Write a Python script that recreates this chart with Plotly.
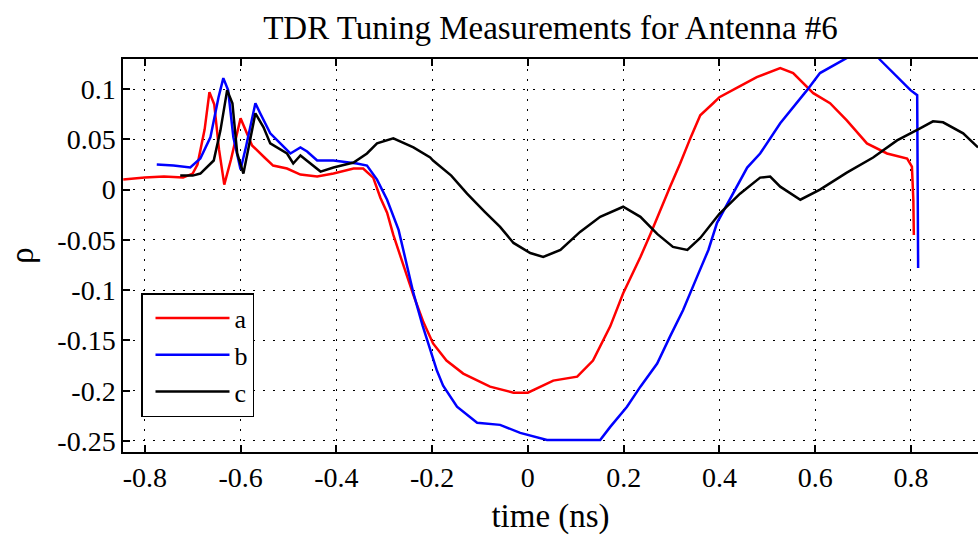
import plotly.graph_objects as go

# ---- data ----
a_t = [-0.845, -0.80, -0.76, -0.72, -0.70, -0.69, -0.675, -0.665, -0.655, -0.645, -0.634, -0.62, -0.60, -0.590,
       -0.576, -0.55, -0.532, -0.503, -0.475, -0.44, -0.406, -0.364, -0.344, -0.323, -0.308, -0.294, -0.281,
       -0.26, -0.239, -0.218, -0.198, -0.17, -0.135, -0.079, -0.03, 0.0, 0.053, 0.103, 0.136, 0.172, 0.199, 0.235, 0.256,
       0.297, 0.318, 0.34, 0.36, 0.387, 0.40, 0.443, 0.478, 0.527, 0.554, 0.596, 0.631, 0.666, 0.708, 0.75, 0.792,
       0.802, 0.805, 0.806]
a_rho = [0.010, 0.012, 0.013, 0.012, 0.016, 0.025, 0.06, 0.097, 0.085, 0.04, 0.005, 0.03, 0.071, 0.06,
         0.044, 0.032, 0.024, 0.021, 0.015, 0.013, 0.016, 0.021, 0.021, 0.012, -0.008, -0.023, -0.045,
         -0.075, -0.105, -0.132, -0.153, -0.170, -0.183, -0.196, -0.202, -0.202, -0.190, -0.186, -0.170, -0.136, -0.103, -0.067, -0.044,
         0.003, 0.026, 0.052, 0.074, 0.086, 0.092, 0.103, 0.112, 0.121, 0.116, 0.096, 0.086, 0.069, 0.046, 0.036, 0.031,
         0.023, -0.010, -0.045]

b_t = [-0.775, -0.74, -0.705, -0.684, -0.663, -0.646, -0.636, -0.626, -0.615, -0.60, -0.589, -0.575, -0.569,
       -0.559, -0.538, -0.517, -0.496, -0.475, -0.461, -0.44, -0.406, -0.357, -0.336, -0.315, -0.294, -0.27,
       -0.255, -0.239, -0.22, -0.204, -0.19, -0.177, -0.148, -0.106, -0.058, -0.016, 0.04, 0.103, 0.151, 0.172, 0.207, 0.235, 0.27,
       0.297, 0.324, 0.353, 0.377, 0.395, 0.429, 0.458, 0.485, 0.527, 0.583, 0.61, 0.666, 0.70, 0.736, 0.763,
       0.799, 0.813, 0.815]
b_rho = [0.025, 0.024, 0.022, 0.031, 0.052, 0.092, 0.111, 0.099, 0.052, 0.020, 0.042, 0.072, 0.086,
         0.076, 0.056, 0.046, 0.036, 0.042, 0.038, 0.029, 0.029, 0.026, 0.024, 0.010, -0.010, -0.040,
         -0.070, -0.103, -0.135, -0.160, -0.180, -0.195, -0.216, -0.232, -0.234, -0.242, -0.249, -0.249, -0.249, -0.236, -0.216, -0.196, -0.173,
         -0.146, -0.120, -0.087, -0.060, -0.033, -0.003, 0.022, 0.036, 0.066, 0.099, 0.116, 0.131, 0.150, 0.129, 0.116,
         0.099, 0.094, -0.078]

c_t = [-0.726, -0.70, -0.684, -0.656, -0.642, -0.628, -0.617, -0.607, -0.594, -0.583, -0.569, -0.552, -0.538,
       -0.503, -0.49, -0.475, -0.454, -0.433, -0.406, -0.364, -0.336, -0.315, -0.281, -0.239, -0.204, -0.198,
       -0.16, -0.127, -0.09, -0.058, -0.03, 0.005, 0.032, 0.068, 0.109, 0.151, 0.199, 0.235, 0.27, 0.303, 0.333, 0.36, 0.40,
       0.443, 0.485, 0.506, 0.527, 0.569, 0.61, 0.666, 0.721, 0.771, 0.819, 0.846, 0.867, 0.909, 0.94]
c_rho = [0.014, 0.014, 0.016, 0.029, 0.059, 0.099, 0.086, 0.036, 0.016, 0.042, 0.076, 0.062, 0.046,
         0.036, 0.026, 0.034, 0.026, 0.018, 0.022, 0.027, 0.036, 0.046, 0.051, 0.042, 0.032, 0.029,
         0.014, -0.004, -0.022, -0.037, -0.053, -0.063, -0.067, -0.060, -0.042, -0.027, -0.017, -0.027, -0.044, -0.057, -0.060, -0.048, -0.024,
         -0.004, 0.012, 0.013, 0.003, -0.010, 0.000, 0.017, 0.032, 0.049, 0.061, 0.068, 0.067, 0.056, 0.042]

x_ticks = [-0.8, -0.6, -0.4, -0.2, 0, 0.2, 0.4, 0.6, 0.8]
x_labels = ["-0.8", "-0.6", "-0.4", "-0.2", "0", "0.2", "0.4", "0.6", "0.8"]
y_ticks = [0.1, 0.05, 0, -0.05, -0.1, -0.15, -0.2, -0.25]
y_labels = ["0.1", "0.05", "0", "-0.05", "-0.1", "-0.15", "-0.2", "-0.25"]

FONT = "Liberation Serif"

fig = go.Figure()
fig.add_trace(go.Scatter(x=a_t, y=a_rho, mode="lines", name="a", line=dict(color="#ff0000", width=2.5)))
fig.add_trace(go.Scatter(x=b_t, y=b_rho, mode="lines", name="b", line=dict(color="#0000ff", width=2.5)))
fig.add_trace(go.Scatter(x=c_t, y=c_rho, mode="lines", name="c", line=dict(color="#000000", width=2.5)))

axis_common = dict(
    showline=True, linecolor="black", linewidth=1.5,
    ticks="inside", ticklen=7, tickcolor="black", tickwidth=1.5,
    showgrid=True, gridcolor="black", gridwidth=1, griddash="2px,8px",
    zeroline=False, tickfont=dict(family=FONT, size=28, color="black"),
)

fig.update_layout(
    width=978, height=535,
    margin=dict(l=123, r=0, t=59, b=83),
    paper_bgcolor="white", plot_bgcolor="white",
    title=dict(text="TDR Tuning Measurements for Antenna #6", x=0.5, xref="paper",
               y=1 - 27 / 535, yref="container", yanchor="middle",
               font=dict(family=FONT, size=33, color="black")),
    xaxis=dict(range=[-0.8455, 0.940], tickvals=x_ticks, ticktext=x_labels, mirror="ticks",
               title=dict(text="time (ns)", font=dict(family=FONT, size=33, color="black"), standoff=12),
               **axis_common),
    yaxis=dict(range=[-0.261, 0.130], tickvals=y_ticks, ticktext=y_labels, mirror=False,
               title=dict(text="ρ", font=dict(family=FONT, size=33, color="black"), standoff=14),
               **axis_common),
    legend=dict(x=(141 - 123) / 855, y=(452 - 417) / 393, xanchor="left", yanchor="bottom",
                bgcolor="white", bordercolor="black", borderwidth=1.5,
                font=dict(family=FONT, size=26, color="black"), itemwidth=74,
                indentation=8, entrywidth=64, entrywidthmode="pixels"),
    showlegend=True,
)

fig.write_html("out.html")
